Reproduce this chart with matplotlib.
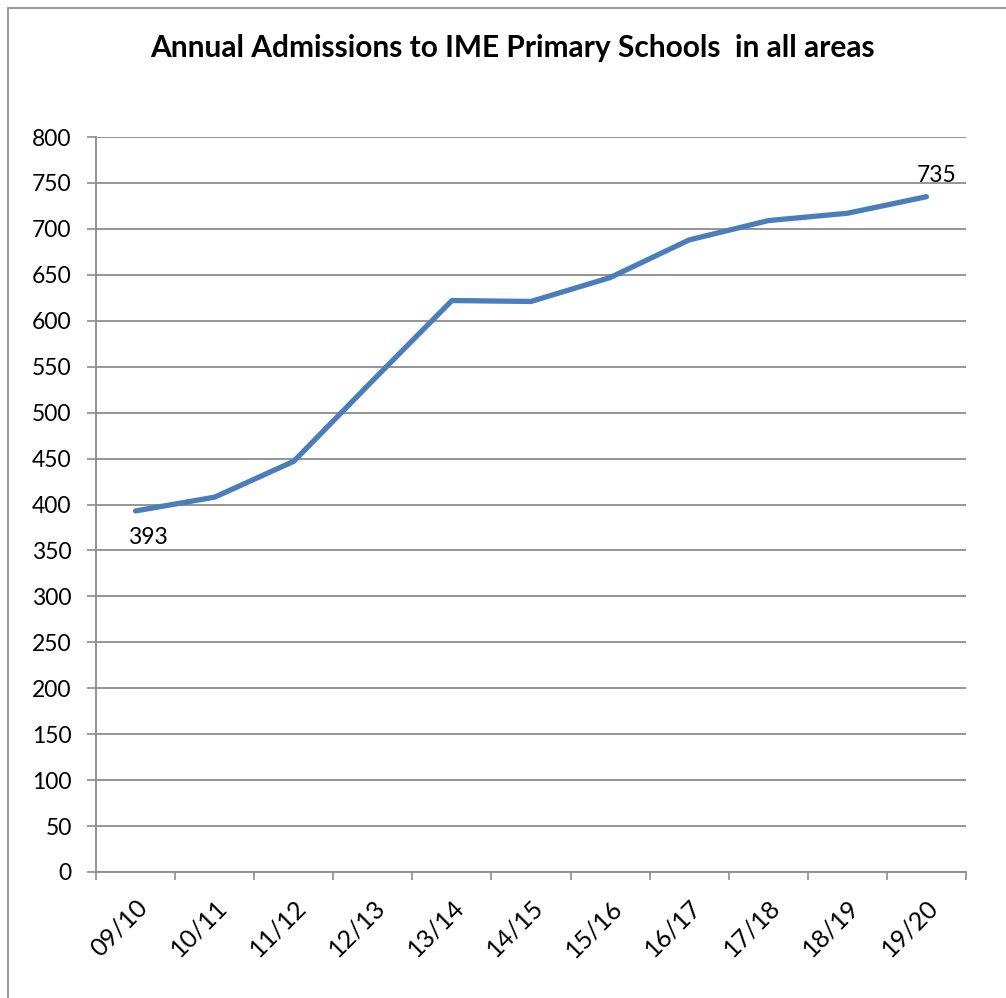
import matplotlib.pyplot as plt
from matplotlib.patches import Rectangle

# datos
years = ["09/10", "10/11", "11/12", "12/13", "13/14", "14/15",
         "15/16", "16/17", "17/18", "18/19", "19/20"]
admissions = [393, 408, 447, 535, 622, 621, 647, 688, 709, 717, 735]
y_ticks = list(range(0, 801, 50))

plt.rcParams['font.family'] = ['Lato', 'DejaVu Sans']

fig = plt.figure(figsize=(10.06, 9.98), dpi=100)
W, H = 1006, 998

# marco exterior
fig.patches.append(Rectangle((8 / W, -0.01), 1.02 - 8 / W, 1.01 - 8 / H,
                             transform=fig.transFigure, fill=False,
                             edgecolor="#888888", linewidth=1.2))

ax = fig.add_axes([96 / W, 1 - 872 / H, 870 / W, 735 / H])
x = list(range(len(years)))
ax.plot(x, admissions, color="#4A7EBB", linewidth=3.8, solid_capstyle="round",
        solid_joinstyle="round", zorder=3)

ax.set_xlim(-0.5, len(years) - 0.5)
ax.set_ylim(0, 800)
ax.set_yticks(y_ticks)
ax.set_yticklabels([str(v) for v in y_ticks], fontsize=16.5)
ax.grid(axis="y", color="#8c8c8c", linewidth=1.3)
ax.set_axisbelow(True)

ax.set_xticks([i - 0.5 for i in range(len(years) + 1)])
ax.set_xticklabels([])
ax.set_xticks(x, minor=True)
ax.set_xticklabels(years, minor=True, rotation=45, ha="right", va="top",
                   rotation_mode="anchor", fontsize=18)
ax.tick_params(axis="x", which="minor", length=0, pad=17)
ax.tick_params(axis="x", which="major", length=6, color="#8c8c8c", width=1.2)
ax.tick_params(axis="y", length=6.5, color="#8c8c8c", width=1.2, pad=11)

for s in ["top", "right"]:
    ax.spines[s].set_visible(False)
for s in ["left", "bottom"]:
    ax.spines[s].set_color("#8c8c8c")
    ax.spines[s].set_linewidth(1.3)

# etiquetas de primer y ultimo valor
ax.annotate(str(admissions[0]), (x[0], admissions[0]), xytext=(9, -19),
            textcoords="offset points", ha="center", va="center", fontsize=16.5)
ax.annotate(str(admissions[-1]), (x[-1], admissions[-1]), xytext=(7, 15),
            textcoords="offset points", ha="center", va="center", fontsize=16.5)

fig.text(512 / W, 1 - 48 / H, "Annual Admissions to IME Primary Schools  in all areas",
         ha="center", va="center", fontsize=21.5, fontweight="bold")

plt.savefig("out.png", dpi=100)
